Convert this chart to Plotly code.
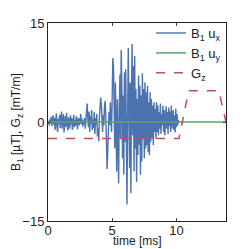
import plotly.graph_objects as go

sample_ms = 0.05
b1_ux = [
    0.2, -0.3, -0.5, 0.4, -0.2, 0.8, -0.6, 0.3, 1.0, -0.4,
    0.6, -1.2, 0.2, 1.3, -0.8, -1.5, 0.5, -0.3, 1.1, -0.9,
    0.3, 1.6, -1.0, -0.2, 1.2, -1.6, 0.4, 0.9, -0.7, 1.4,
    -0.5, -1.3, 0.7, 0.2, -1.0, 1.0, -0.4, 0.6, -1.2, 0.5,
    1.1, -0.8, 0.3, -0.6, 0.9, 0.1, -1.1, 0.6, 0.4, -0.5,
    0.8, 1.2, -0.3, 0.5, -0.7, 0.2, -0.4, 0.6, -1.0, 0.3,
    1.0, 2.8, 0.5, -0.8, 1.6, -1.5, 0.9, -0.3, 1.8, -1.2,
    0.4, -0.9, 1.5, -1.8, 0.6, -0.4, 1.2, -2.2, -1.0, -2.9,
    0.5, 2.0, 3.7, 2.8, 0.8, -1.5, 1.0, -0.5, 2.5, 3.2,
    1.0, -3.0, -7.1, -4.5, -1.0, 1.5, -0.5, 3.0, 0.5, -1.5,
    4.0, 9.7, 8.5, 2.0, -4.0, 6.0, -1.5, -7.5, 3.5, -9.0,
    -9.3, 2.0, 7.2, -2.5, 10.9, 5.5, -5.5, 4.0, -8.0, 7.5,
    -3.0, 8.0, -6.5, -12.5, 1.0, 11.2, 3.0, -7.0, 6.0, -10.8,
    4.0, 11.8, -2.0, 8.5, -7.5, 10.0, -4.0, 5.0, -9.1, 3.5,
    -5.0, 7.0, -3.5, 5.5, -8.0, 4.0, -6.0, 7.4, -2.5, 5.0,
    -5.5, 6.0, -4.0, 4.5, -3.5, 5.5, -4.5, 3.0, -5.0, 4.5,
    -3.0, 3.5, -2.5, 2.5, -3.5, 3.0, -1.5, 2.0, -2.5, 3.0,
    -1.5, 2.5, -2.0, 1.5, -1.0, 2.8, -1.8, 1.2, -0.5, 2.5,
    -1.5, 1.8, -2.0, 0.8, 2.4, -1.0, 1.5, -1.8, 2.2, -0.6,
    1.6, -1.5, 2.5, -1.0, 0.6, 1.8, -1.2, 1.0, -1.6, 2.0,
    -0.8, 1.2, -0.5, 0.3, 0.0,
]
t_ux = [round(i * sample_ms, 3) for i in range(len(b1_ux))]

t_uy = [0.0, 13.86]
b1_uy = [0.0, 0.0]

t_gz = [0.0, 10.2, 10.95, 13.3, 13.86]
gz = [-2.5, -2.5, 4.75, 4.75, 0.0]

x_title = "time [ms]"
y_title = "B<sub>1</sub> [\u00b5T], G<sub>z</sub> [mT/m]"

fig = go.Figure()
fig.add_trace(go.Scatter(x=t_ux, y=b1_ux, mode="lines", name="B<sub>1</sub> u<sub>x</sub>",
                         line=dict(color="#4C72B0", width=1.4)))
fig.add_trace(go.Scatter(x=t_uy, y=b1_uy, mode="lines", name="B<sub>1</sub> u<sub>y</sub>",
                         line=dict(color="#55A868", width=1.5)))
fig.add_trace(go.Scatter(x=t_gz, y=gz, mode="lines", name="G<sub>z</sub>",
                         line=dict(color="#C44E52", width=1.5, dash="dash")))

fig.update_layout(
    width=241, height=241,
    margin=dict(l=40, r=23, t=10, b=28),
    plot_bgcolor="white", paper_bgcolor="white",
    font=dict(family="Liberation Sans, Arial, sans-serif", size=12, color="#222"),
    showlegend=True,
    legend=dict(x=1.0, y=1.025, xanchor="right", yanchor="top", bgcolor="rgba(0,0,0,0)",
                font=dict(size=13), tracegroupgap=0, itemwidth=30),
    annotations=[
        dict(text=x_title, xref="paper", yref="paper", x=0.5, y=0, xanchor="center",
             yanchor="middle", yshift=-20, showarrow=False, font=dict(size=12)),
        dict(text=y_title, xref="paper", yref="paper", x=0, y=0.5, xanchor="center",
             yanchor="middle", xshift=-31, textangle=-90, showarrow=False,
             font=dict(size=12)),
    ],
)
fig.update_xaxes(range=[0, 13.86], tickvals=[0, 5, 10], ticks="inside", ticklen=3,
                 showline=True, linecolor="#222", linewidth=1, mirror="ticks",
                 showgrid=False, zeroline=False, automargin=False,
                 ticklabelstandoff=-3, tickfont=dict(size=13))
fig.update_yaxes(range=[-15, 15], tickvals=[-15, 0, 15], ticktext=["\u221215", "0", "15"],
                 ticks="inside", ticklen=3,
                 showline=True, linecolor="#222", linewidth=1, mirror="ticks",
                 showgrid=False, zeroline=False, automargin=False,
                 tickfont=dict(size=13))

fig.write_html("out.html")
